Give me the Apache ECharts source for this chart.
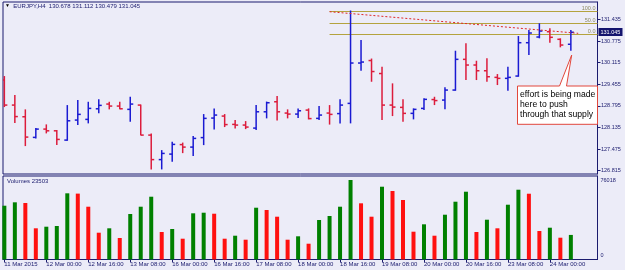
<!DOCTYPE html>
<html><head><meta charset="utf-8">
<script src="https://cdn.jsdelivr.net/npm/echarts@6/dist/echarts.min.js"></script>
<style>html,body{margin:0;padding:0;background:#ececf8;}#c{width:625px;height:270px;}</style>
</head><body><div id="c"></div>
<script>
// ---- data (EURJPY H4) ----
const symbolName = 'EURJPY,H4';
const opens  = [129.585,128.820,128.463,127.833,128.086,128.034,127.750,128.362,128.383,128.707,128.851,128.790,128.689,128.820,127.903,127.154,127.322,127.612,127.536,127.826,128.423,128.484,128.230,128.209,128.117,128.615,128.921,128.576,128.545,128.667,128.414,128.576,128.560,128.872,130.105,130.181,129.784,128.820,128.750,128.567,128.719,128.989,128.973,129.279,130.218,130.044,129.869,129.667,129.637,129.707,130.726,130.900,131.062,130.830,130.678];
const highs  = [129.707,129.126,128.689,128.117,128.230,128.056,128.820,128.973,128.921,128.995,128.921,128.921,129.074,128.836,127.955,127.444,127.698,127.674,127.872,128.545,128.713,128.545,128.362,128.331,128.820,128.927,129.096,128.689,128.713,128.719,128.790,128.820,128.995,131.710,130.808,130.242,129.992,129.484,128.995,128.719,129.025,129.074,129.362,130.481,130.707,130.175,130.248,129.768,129.992,130.930,131.114,131.319,131.166,130.860,131.112];
const lows   = [128.759,128.270,127.567,127.802,127.955,127.597,127.729,128.209,128.261,128.567,128.689,128.689,128.310,127.895,126.854,126.854,127.086,127.352,127.261,127.597,128.077,128.148,128.108,128.086,128.056,128.414,128.346,128.414,128.423,128.383,128.362,128.224,128.261,128.261,129.869,129.533,128.362,128.484,128.310,128.383,128.667,128.820,128.689,129.258,129.585,129.585,129.533,129.432,129.258,129.686,130.349,130.860,130.726,130.585,130.479];
const closes = [128.820,128.469,127.842,128.086,128.034,127.771,128.340,128.536,128.719,128.811,128.790,128.707,128.851,127.903,127.154,127.343,127.619,127.536,127.802,128.414,128.515,128.224,128.209,128.148,128.615,128.891,128.615,128.545,128.646,128.407,128.515,128.536,128.820,130.105,130.135,129.845,128.820,128.759,128.567,128.689,128.995,128.958,129.279,130.218,130.044,129.869,129.686,129.637,129.667,130.726,131.022,131.083,130.891,130.655,131.045];
const volumes = [51430,54680,54010,29830,31360,32030,63290,63000,50480,25620,29830,20550,43500,50480,60040,26290,29160,19880,44170,44740,43780,19880,22750,18930,49520,47320,40920,18930,22180,15100,37760,41590,50480,76018,53730,40920,69600,65490,56880,26580,33650,22750,42830,55260,64820,26290,38050,29830,52390,66730,62900,27250,30400,20840,23503];
const dateLabels = ['11 Mar 2015','12 Mar 00:00','12 Mar 16:00','13 Mar 08:00','16 Mar 00:00','16 Mar 16:00','17 Mar 08:00','18 Mar 00:00','18 Mar 16:00','19 Mar 08:00','20 Mar 00:00','20 Mar 16:00','23 Mar 08:00','24 Mar 00:00'];
const dateLabelIdx = [0,4,8,12,16,20,24,28,32,36,40,44,48,52];
const priceTicks = [126.815,127.475,128.135,128.795,129.455,130.115,130.775,131.435];
const volumeTicks = [0,76018];
const fibNames  = ['100.0','50.0','0.0'];
const fibValues = [131.700,131.340,130.980];
const fibStartIdx = 31;
const trendIdx = [31,54.7];
const trendPrice = [131.673,131.013];
const noteText = 'effort is being made\nhere to push\nthrough that supply';

// ---- styles ----
const NAVY = '#1b1b6e', BG = '#ececf8';
const UP = '#1a1ad2', DOWN = '#dc1c3c';
const VUP = '#008000', VDOWN = '#ff1010';
const FIB = '#b4a33e';
const FONT = 'Liberation Sans, Arial, sans-serif';
const xMin = -0.129, xMax = 56.54;

const n = closes.length;
const ohlc = closes.map((c,i)=>[i, opens[i], highs[i], lows[i], c]);
const volData = volumes.map((v,i)=>({value:[i,v], itemStyle:{color: (i===0 || v>volumes[i-1]) ? VUP : VDOWN}}));
const fibData = fibValues.map(v=>[fibStartIdx, v]);
const trendData = trendIdx.map((x,i)=>[x, trendPrice[i]]);
const lastO = opens[n-1], lastH = highs[n-1], lastL = lows[n-1], lastC = closes[n-1];

const chart = echarts.init(document.getElementById('c'), null, {renderer:'canvas'});
chart.setOption({
  animation:false,
  backgroundColor: BG,
  textStyle:{fontFamily:FONT},
  grid:[
    {left:3, right:27.5, top:2, height:172, show:true, borderColor:NAVY, borderWidth:1, backgroundColor:'transparent'},
    {left:3, right:27.5, top:176, height:83.5, show:true, borderColor:NAVY, borderWidth:1, backgroundColor:'transparent'}
  ],
  xAxis:[
    {type:'value', gridIndex:0, min:xMin, max:xMax, show:false, axisLine:{onZero:false}},
    {type:'value', gridIndex:1, min:xMin, max:xMax, position:'bottom',
      axisLine:{show:true, onZero:false, lineStyle:{color:NAVY}},
      splitLine:{show:false},
      axisTick:{show:true, customValues:dateLabelIdx, length:3, lineStyle:{color:NAVY}},
      axisLabel:{customValues:dateLabelIdx, formatter:v=>dateLabels[dateLabelIdx.indexOf(Math.round(v))], align:'left', margin:2, fontSize:6, color:NAVY, fontFamily:FONT}
    }
  ],
  yAxis:[
    {type:'value', gridIndex:0, min:126.714, max:131.970, position:'right',
      axisLine:{show:true, onZero:false, lineStyle:{color:NAVY}}, splitLine:{show:false},
      axisTick:{show:true, customValues:priceTicks, length:3, lineStyle:{color:NAVY}},
      axisLabel:{customValues:priceTicks, formatter:v=>v.toFixed(3), margin:3.5, fontSize:5.5, color:NAVY, fontFamily:FONT}
    },
    {type:'value', gridIndex:1, min:0, max:79843, position:'right',
      axisLine:{show:true, onZero:false, lineStyle:{color:NAVY}}, splitLine:{show:false},
      axisTick:{show:false},
      axisLabel:{customValues:volumeTicks, margin:3, fontSize:5.5, color:NAVY, fontFamily:FONT,
        formatter:v=> v===0 ? '{z|0}' : '{n|'+v+'}',
        rich:{z:{padding:[0,0,8,0], fontSize:5.5, color:NAVY}, n:{fontSize:5.5, color:NAVY}}}
    }
  ],
  title:[
    {text:'{t|▼}  '+symbolName+'  '+lastO.toFixed(3)+' '+lastH.toFixed(3)+' '+lastL.toFixed(3)+' '+lastC.toFixed(3),
     left:5, top:3, padding:0,
     textStyle:{fontSize:6, fontWeight:'normal', color:NAVY, fontFamily:FONT, rich:{t:{fontSize:5, color:'#000'}}}},
    {text:'Volumes '+volumes[n-1], left:7, top:178, padding:0,
     textStyle:{fontSize:6, fontWeight:'normal', color:NAVY, fontFamily:FONT}}
  ],
  series:[
    {type:'custom', xAxisIndex:0, yAxisIndex:0, clip:true, data:fibData, silent:true,
     encode:{x:0, y:1},
     renderItem:(params, api)=>{
       const p = api.coord([api.value(0), api.value(1)]);
       const cs = params.coordSys; const xr = cs.x + cs.width;
       const y = Math.round(p[1]) + 0.5;
       return {type:'group', children:[
         {type:'line', shape:{x1:p[0], y1:y, x2:xr, y2:y}, style:{stroke:FIB, lineWidth:1}},
         {type:'text', style:{text:fibNames[params.dataIndex], x:xr-2, y:y-0.5, align:'right', textAlign:'right', verticalAlign:'bottom', textVerticalAlign:'bottom', fill:'#8c8a60', fontSize:5.5, fontFamily:FONT}}
       ]};
     }},
    {type:'custom', xAxisIndex:0, yAxisIndex:0, clip:true, data:ohlc, silent:true,
     encode:{x:0, y:[1,2,3,4]},
     renderItem:(params, api)=>{
       const i = api.value(0), o = api.value(1), h = api.value(2), l = api.value(3), c = api.value(4);
       const pH = api.coord([i,h]), pL = api.coord([i,l]), pO = api.coord([i,o]), pC = api.coord([i,c]);
       const col = c >= o ? UP : DOWN;
       const x = pH[0];
       const st = {stroke:col, lineWidth:1.5};
       return {type:'group', children:[
         {type:'line', shape:{x1:x, y1:pH[1], x2:x, y2:pL[1]}, style:st},
         {type:'line', shape:{x1:x-3, y1:pO[1], x2:x, y2:pO[1]}, style:st},
         {type:'line', shape:{x1:x, y1:pC[1], x2:x+3, y2:pC[1]}, style:st}
       ]};
     }},
    // current price box
    {type:'custom', xAxisIndex:0, yAxisIndex:0, clip:false, silent:true, z:20, data:[[n-1, lastC]],
     encode:{x:0, y:1},
     renderItem:(params, api)=>{
       const p = api.coord([api.value(0), api.value(1)]);
       const cs = params.coordSys; const xr = cs.x + cs.width;
       const y = Math.round(p[1]);
       return {type:'group', children:[
         {type:'rect', shape:{x:xr+1, y:y-4, width:24, height:8}, style:{fill:'#14146e'}},
         {type:'text', style:{text:lastC.toFixed(3), x:xr+3, y:y+0.5, align:'left', textAlign:'left', verticalAlign:'middle', textVerticalAlign:'middle', fill:'#ffffff', fontSize:5.5, fontFamily:FONT}}
       ]};
     }},
    {type:'line', xAxisIndex:0, yAxisIndex:0, data:trendData, symbol:'none', silent:true,
     lineStyle:{color:'#e02828', width:1, type:[2,2]}},
    {type:'bar', xAxisIndex:1, yAxisIndex:1, data:volData, barWidth:4, silent:true}
  ],
  graphic:[
    {type:'polygon', silent:true, z:100,
     shape:{points:[[517.5,86],[559.5,86],[571.7,55],[566.5,86],[597.5,86],[597.5,124.3],[517.5,124.3]]},
     style:{fill:'#ffffff', stroke:'#e2473c', lineWidth:1}},
    {type:'text', silent:true, z:101, left:520, top:89.3,
     style:{text:noteText, fontSize:8.6, lineHeight:10.3, fill:'#000', fontFamily:FONT}}
  ]
});
</script></body></html>
